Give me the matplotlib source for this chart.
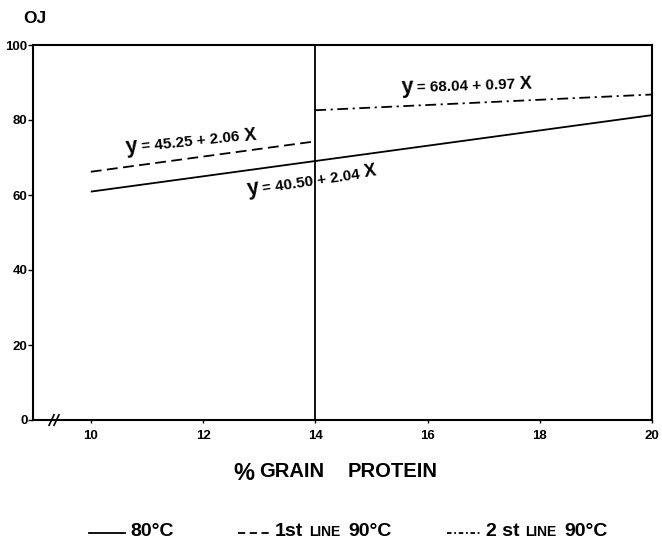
import matplotlib
matplotlib.use("Agg")
import matplotlib.pyplot as plt
import numpy as np

plt.rcParams['font.family'] = ['Liberation Sans', 'DejaVu Sans']

# ---- data ----
line80_x = [10, 20]
line80_y = [60.9, 81.3]
line90a_x = [10, 14]
line90a_y = [66.2, 74.3]
line90b_x = [14, 20]
line90b_y = [82.6, 86.8]
split_x = 14
xticks = [10, 12, 14, 16, 18, 20]
yticks = [0, 20, 40, 60, 80, 100]
eq_texts = ["= 45.25 + 2.06", "= 40.50 + 2.04", "= 68.04 + 0.97"]

W, H = 662, 542
fig = plt.figure(figsize=(W / 100, H / 100), dpi=100)
ax = fig.add_axes([33 / W, 1 - 420 / H, (652 - 33) / W, (420 - 45) / H])
ax.set_xlim(8.97, 20)
ax.set_ylim(0, 100)

lw = 1.3
ax.plot(line80_x, line80_y, color='black', lw=lw, solid_capstyle='butt')
ax.plot(line90a_x, line90a_y, color='black', lw=lw, ls=(0, (6, 3)))
ax.plot(line90b_x, line90b_y, color='black', lw=lw, ls=(0, (6, 2.5, 1.2, 2.5)))
ax.axvline(split_x, color='black', lw=lw)

for s in ax.spines.values():
    s.set_linewidth(1.5)
ax.set_xticks(xticks)
ax.set_yticks(yticks)
ax.set_xticklabels([str(v) for v in xticks], fontweight='bold')
ax.set_yticklabels([str(v) for v in yticks], fontweight='bold')
ax.tick_params(axis='y', direction='out', length=3.5, width=1, labelsize=9.5, pad=0.5)
ax.tick_params(axis='x', direction='out', length=2.5, width=1, labelsize=9.5, pad=5)

# axis break marks on bottom axis
for bx in (0.030, 0.038):
    ax.plot([bx - 0.004, bx + 0.004], [-0.014, 0.014], transform=ax.transAxes,
            color='black', lw=1.2, clip_on=False)

fig.text(23 / W, 1 - 23 / H, 'OJ', fontsize=12.5, fontweight='bold', va='baseline')

fig.canvas.draw()
renderer = fig.canvas.get_renderer()


def chain(x_px, y_px, pieces, angle=0.0):
    th = np.deg2rad(angle)
    x, y = x_px, y_px
    for txt, size, weight, gap in pieces:
        fig.text(x / W, y / H, txt, fontsize=size, fontweight=weight,
                 ha='left', va='baseline', rotation=angle, rotation_mode='anchor')
        tmp = fig.text(0, 0, txt, fontsize=size, fontweight=weight)
        w = tmp.get_window_extent(renderer).width
        tmp.remove()
        adv = w + gap
        x += adv * np.cos(th)
        y += adv * np.sin(th)


# equation labels (anchor in data coords)
eq_anchor = [(10.64, 71.2), (12.80, 60.0), (15.54, 87.2)]
eq_angle = [6, 8.5, 2]
for (xa, ya), ang, txt in zip(eq_anchor, eq_angle, eq_texts):
    px, py = ax.transData.transform((xa, ya))
    chain(px, py, [("y", 15.5, 'bold', 3), (txt, 11, 'bold', 5), ("X", 13, 'bold', 0)], ang)

# x label
chain(233, H - 480, [("%", 17, 'bold', 4)])
chain(259, H - 477, [("GRAIN", 14.5, 'bold', 0)])
chain(348, H - 477, [("PROTEIN", 14.5, 'bold', 0)])

# legend
ly = H - 533
fig.add_artist(plt.Line2D([89 / W, 125 / W], [ly / H, ly / H], color='black', lw=lw))
fig.add_artist(plt.Line2D([238 / W, 272 / W], [ly / H, ly / H], color='black', lw=lw, ls=(0, (4, 2.5))))
fig.add_artist(plt.Line2D([447 / W, 482 / W], [ly / H, ly / H], color='black', lw=lw, ls=(0, (2.5, 1.5, 1, 1.5))))
tb = H - 536
chain(130, tb, [("80°C", 14, 'bold', 0)])
chain(275, tb, [("1st", 14, 'bold', 6), ("LINE", 10, 'bold', 8), ("90°C", 14, 'bold', 0)])
chain(486, tb, [("2 st", 14, 'bold', 6), ("LINE", 10, 'bold', 8), ("90°C", 14, 'bold', 0)])

fig.savefig("out.png", dpi=100)
